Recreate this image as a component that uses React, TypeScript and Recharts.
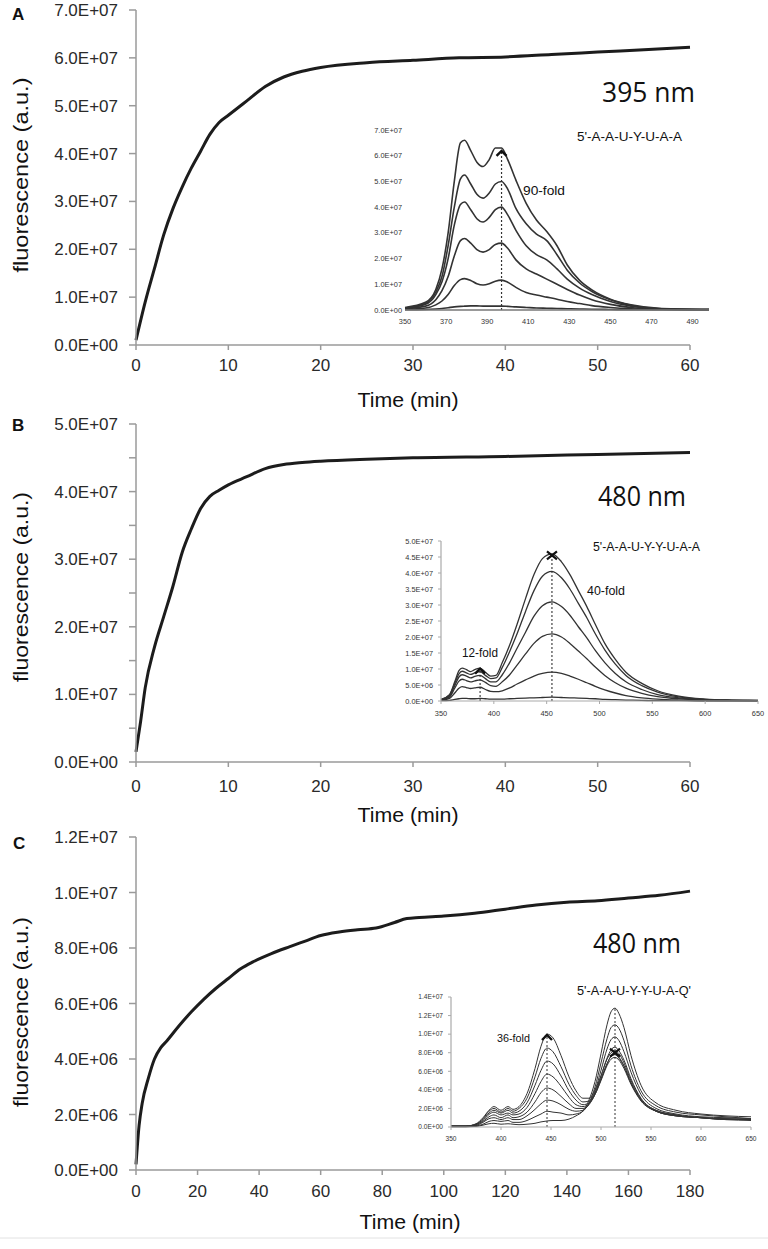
import React from 'react';
import { LineChart, Line, XAxis, YAxis, ReferenceLine, ReferenceDot } from 'recharts';

// ---------- main kinetic curves ----------
const timeA = [0, 1, 2, 3, 4, 5, 6, 7, 8, 9, 10, 12, 14, 16, 18, 20, 25, 30, 35, 40, 45, 50, 55, 60];
const fluorA_1e7 = [0.1, 0.9, 1.6, 2.3, 2.85, 3.3, 3.7, 4.05, 4.4, 4.65, 4.8, 5.1, 5.4, 5.6, 5.72, 5.8, 5.9, 5.95, 6.0, 6.02, 6.07, 6.12, 6.17, 6.22];

const timeB = [0, 0.5, 1, 2, 3, 4, 5, 6, 7, 8, 9, 10, 12, 14, 16, 18, 20, 25, 30, 40, 50, 60];
const fluorB_1e7 = [0.15, 0.6, 1.1, 1.7, 2.15, 2.6, 3.1, 3.45, 3.75, 3.93, 4.02, 4.1, 4.22, 4.34, 4.4, 4.43, 4.45, 4.48, 4.5, 4.52, 4.55, 4.58];

const timeC = [0, 1, 2, 4, 6, 8, 10, 14, 18, 22, 26, 30, 34, 38, 44, 50, 55, 60, 66, 72, 78, 84, 88, 92, 100, 110, 120, 130, 140, 150, 160, 170, 180];
const fluorC_1e6 = [0.2, 1.6, 2.4, 3.3, 4.0, 4.4, 4.65, 5.2, 5.7, 6.15, 6.55, 6.9, 7.25, 7.5, 7.8, 8.05, 8.25, 8.45, 8.58, 8.66, 8.72, 8.92, 9.06, 9.1, 9.15, 9.25, 9.4, 9.55, 9.65, 9.7, 9.8, 9.9, 10.05];

const ticksA_x = [0, 10, 20, 30, 40, 50, 60];
const ticksA_y = [0, 1, 2, 3, 4, 5, 6, 7];
const ticksB_x = [0, 10, 20, 30, 40, 50, 60];
const ticksB_y = [0, 0.5, 1, 1.5, 2, 2.5, 3, 3.5, 4, 4.5, 5];
const ticksC_x = [0, 20, 40, 60, 80, 100, 120, 140, 160, 180];
const ticksC_y = [0, 2, 4, 6, 8, 10, 12];

// ---------- inset A spectra (x1e7) ----------
const wlA = [350, 360, 365, 368, 371, 374, 377, 379, 382, 385, 388, 391, 394, 397, 400, 404, 409, 414, 419, 424, 429, 435, 441, 450, 460, 475, 498];
const specA1 = [0.1, 0.3, 0.8, 1.6, 3.0, 5.0, 6.5, 6.6, 6.2, 5.75, 5.58, 5.85, 6.3, 6.3, 5.85, 5.05, 4.15, 3.5, 3.05, 2.5, 1.75, 1.15, 0.78, 0.42, 0.2, 0.06, 0.03];
const specA2 = [0.08, 0.25, 0.7, 1.3, 2.5, 4.0, 5.1, 5.25, 4.9, 4.5, 4.35, 4.55, 4.9, 5.0, 4.7, 3.95, 3.35, 2.95, 2.7, 2.15, 1.55, 1.05, 0.72, 0.4, 0.18, 0.05, 0.02];
const specA3 = [0.07, 0.22, 0.6, 1.1, 2.0, 3.3, 4.1, 4.2, 3.9, 3.55, 3.42, 3.6, 3.9, 4.0, 3.7, 3.1, 2.5, 2.15, 1.95, 1.6, 1.2, 0.85, 0.6, 0.33, 0.15, 0.04, 0.02];
const specA4 = [0.05, 0.15, 0.4, 0.75, 1.3, 2.1, 2.7, 2.78, 2.6, 2.35, 2.25, 2.35, 2.55, 2.6, 2.4, 1.95, 1.6, 1.4, 1.2, 1.0, 0.8, 0.58, 0.4, 0.22, 0.1, 0.03, 0.01];
const specA5 = [0.03, 0.08, 0.2, 0.35, 0.6, 0.95, 1.18, 1.22, 1.15, 1.02, 0.97, 1.02, 1.12, 1.16, 1.08, 0.88, 0.68, 0.58, 0.5, 0.42, 0.33, 0.25, 0.17, 0.1, 0.05, 0.02, 0.01];
const specA6 = [0.01, 0.02, 0.04, 0.06, 0.09, 0.12, 0.14, 0.15, 0.16, 0.16, 0.15, 0.15, 0.15, 0.15, 0.14, 0.12, 0.1, 0.08, 0.07, 0.06, 0.05, 0.04, 0.03, 0.02, 0.01, 0.01, 0.0];
const insetA_xTicks = [350, 370, 390, 410, 430, 450, 470, 490];
const insetA_yTicks = [0, 1, 2, 3, 4, 5, 6, 7];

// ---------- inset B spectra (x1e7) ----------
const wlB = [350, 358, 363, 367, 370, 374, 378, 382, 387, 392, 397, 402, 408, 415, 422, 430, 438, 446, 455, 464, 472, 480, 488, 496, 505, 515, 525, 540, 555, 575, 600, 625, 650];
const specB1 = [0.05, 0.2, 0.6, 0.95, 1.03, 0.98, 0.92, 0.98, 1.03, 0.9, 0.78, 0.8, 1.2, 1.75, 2.4, 3.2, 3.95, 4.45, 4.6, 4.35, 3.95, 3.45, 2.95, 2.4, 1.8, 1.3, 0.9, 0.55, 0.32, 0.15, 0.06, 0.03, 0.02];
const specB2 = [0.04, 0.18, 0.55, 0.85, 0.93, 0.88, 0.83, 0.88, 0.92, 0.8, 0.7, 0.72, 1.05, 1.55, 2.1, 2.8, 3.45, 3.9, 4.05, 3.85, 3.5, 3.05, 2.6, 2.1, 1.6, 1.15, 0.8, 0.48, 0.28, 0.13, 0.05, 0.03, 0.02];
const specB3 = [0.03, 0.15, 0.48, 0.75, 0.82, 0.78, 0.72, 0.77, 0.8, 0.7, 0.6, 0.6, 0.82, 1.2, 1.65, 2.15, 2.65, 2.98, 3.1, 2.95, 2.68, 2.32, 1.97, 1.58, 1.2, 0.86, 0.6, 0.36, 0.2, 0.1, 0.04, 0.02, 0.01];
const specB4 = [0.03, 0.12, 0.4, 0.62, 0.68, 0.64, 0.6, 0.63, 0.66, 0.58, 0.48, 0.46, 0.6, 0.82, 1.12, 1.47, 1.8, 2.02, 2.1, 2.0, 1.8, 1.56, 1.32, 1.06, 0.8, 0.57, 0.4, 0.24, 0.14, 0.07, 0.03, 0.01, 0.01];
const specB5 = [0.02, 0.08, 0.25, 0.4, 0.45, 0.42, 0.39, 0.41, 0.43, 0.36, 0.3, 0.29, 0.32, 0.41, 0.53, 0.66, 0.78, 0.86, 0.9, 0.86, 0.78, 0.68, 0.57, 0.46, 0.35, 0.25, 0.17, 0.1, 0.06, 0.03, 0.01, 0.01, 0.0];
const specB6 = [0.01, 0.02, 0.05, 0.07, 0.08, 0.08, 0.07, 0.07, 0.08, 0.07, 0.06, 0.06, 0.06, 0.07, 0.08, 0.09, 0.1, 0.11, 0.12, 0.11, 0.1, 0.09, 0.08, 0.07, 0.05, 0.04, 0.03, 0.02, 0.01, 0.01, 0.0, 0.0, 0.0];
const insetB_xTicks = [350, 400, 450, 500, 550, 600, 650];
const insetB_yTicks = [0, 0.5, 1, 1.5, 2, 2.5, 3, 3.5, 4, 4.5, 5];

// ---------- inset C spectra (x1e6) ----------
const wlC = [350, 365, 375, 382, 388, 393, 400, 407, 412, 418, 426, 434, 440, 446, 452, 460, 468, 475, 482, 488, 494, 500, 506, 510, 514, 518, 523, 530, 540, 555, 575, 600, 625, 650];
const specC1 = [0.1, 0.1, 0.35, 1.0, 1.8, 2.2, 1.8, 2.2, 1.9, 2.2, 3.6, 6.3, 8.7, 10.0, 9.6, 7.7, 5.4, 3.9, 3.1, 3.1, 4.0, 5.5, 7.3, 8.0, 8.2, 7.9, 6.9, 5.0, 3.0, 1.8, 1.3, 1.0, 0.9, 0.8];
const specC2 = [0.1, 0.1, 0.3, 0.9, 1.7, 2.0, 1.6, 2.0, 1.7, 2.0, 3.1, 5.4, 7.4, 8.5, 8.1, 6.5, 4.6, 3.4, 2.7, 2.8, 3.7, 5.2, 6.8, 7.6, 7.8, 7.4, 6.5, 4.7, 2.9, 1.7, 1.2, 1.0, 0.8, 0.8];
const specC3 = [0.1, 0.1, 0.3, 0.8, 1.5, 1.8, 1.5, 1.8, 1.5, 1.7, 2.6, 4.5, 6.1, 7.1, 6.8, 5.5, 3.9, 2.9, 2.4, 2.6, 3.5, 5.0, 6.6, 7.3, 7.5, 7.2, 6.3, 4.6, 2.8, 1.7, 1.2, 1.0, 0.8, 0.7];
const specC4 = [0.1, 0.1, 0.25, 0.7, 1.35, 1.6, 1.3, 1.5, 1.3, 1.4, 2.1, 3.6, 4.9, 5.7, 5.4, 4.4, 3.2, 2.4, 2.2, 2.5, 3.5, 5.1, 6.8, 7.6, 7.8, 7.5, 6.6, 4.8, 2.9, 1.7, 1.2, 1.0, 0.8, 0.8];
const specC5 = [0.1, 0.1, 0.2, 0.6, 1.1, 1.3, 1.0, 1.3, 1.0, 1.1, 1.6, 2.7, 3.7, 4.2, 4.0, 3.3, 2.5, 2.0, 2.0, 2.4, 3.6, 5.5, 7.4, 8.3, 8.6, 8.2, 7.2, 5.2, 3.1, 1.8, 1.3, 1.0, 0.9, 0.8];
const specC6 = [0.05, 0.05, 0.15, 0.5, 0.9, 1.0, 0.8, 1.0, 0.8, 0.8, 1.2, 1.9, 2.5, 2.9, 2.8, 2.4, 1.9, 1.7, 1.8, 2.5, 3.9, 6.1, 8.4, 9.4, 9.7, 9.3, 8.1, 5.9, 3.5, 2.0, 1.4, 1.1, 1.0, 0.9];
const specC7 = [0.04, 0.04, 0.1, 0.3, 0.6, 0.7, 0.6, 0.7, 0.5, 0.5, 0.7, 1.1, 1.4, 1.7, 1.6, 1.5, 1.3, 1.4, 1.7, 2.6, 4.3, 6.9, 9.5, 10.7, 11.0, 10.6, 9.3, 6.6, 3.9, 2.3, 1.6, 1.3, 1.1, 0.9];
const specC8 = [0.02, 0.02, 0.06, 0.2, 0.35, 0.4, 0.3, 0.35, 0.3, 0.25, 0.3, 0.4, 0.55, 0.65, 0.7, 0.7, 0.85, 1.2, 1.75, 2.9, 4.9, 7.9, 11.0, 12.4, 12.8, 12.2, 10.7, 7.7, 4.5, 2.6, 1.8, 1.4, 1.2, 1.1];
const insetC_xTicks = [350, 400, 450, 500, 550, 600, 650];
const insetC_yTicks = [0, 2, 4, 6, 8, 10, 12, 14];

// ---------- helpers ----------
const FONT = "'Liberation Sans', Arial, Helvetica, sans-serif";

function sci(v: number): string {
  if (Math.abs(v) < 1e-9) return '0.0E+00';
  const e = Math.floor(Math.log10(Math.abs(v)) + 1e-9);
  const m = v / Math.pow(10, e);
  return `${m.toFixed(1)}E+${String(e).padStart(2, '0')}`;
}

function toRows(xs: number[], series: number[][]) {
  return xs.map((x, i) => {
    const row: any = { x };
    series.forEach((s, k) => { row['s' + k] = s[i]; });
    return row;
  });
}

const mainA = toRows(timeA, [fluorA_1e7]);
const mainB = toRows(timeB, [fluorB_1e7]);
const mainC = toRows(timeC, [fluorC_1e6]);
const insetA = toRows(wlA, [specA1, specA2, specA3, specA4, specA5, specA6]);
const insetB = toRows(wlB, [specB1, specB2, specB3, specB4, specB5, specB6]);
const insetC = toRows(wlC, [specC1, specC2, specC3, specC4, specC5, specC6, specC7, specC8]);

const Chevron = (props: any) => {
  const { cx, cy } = props;
  return <path d={`M${cx - 5},${cy + 4}L${cx},${cy - 1}L${cx + 5},${cy + 4}`} stroke="#111" strokeWidth={2.4} fill="none" />;
};
const Cross = (props: any) => {
  const { cx, cy } = props;
  return <path d={`M${cx - 5},${cy - 4}L${cx + 5},${cy + 4}M${cx + 5},${cy - 4}L${cx - 5},${cy + 4}`} stroke="#111" strokeWidth={2.2} fill="none" />;
};

const axisStroke = { stroke: '#9a9a9a', strokeWidth: 1.5 };
const mainTick = { fill: '#2a2a2a', fontSize: 17, fontFamily: FONT };

function MainPanel(props: {
  top: number; height: number; bottom: number; data: any[];
  xTicks: number[]; xMax: number; yTicks: number[]; yMax: number;
  yFmt: (v: number) => string; tickMarginX: number;
}) {
  const { top, height, bottom, data, xTicks, xMax, yTicks, yMax, yFmt, tickMarginX } = props;
  return (
    <div style={{ position: 'absolute', left: 0, top }}>
      <LineChart width={768} height={height} data={data} margin={{ top: 10, right: 78, left: 0, bottom }}>
        <XAxis dataKey="x" type="number" domain={[0, xMax]} ticks={xTicks} interval={0}
          axisLine={axisStroke} tickLine={axisStroke} tickSize={5} tickMargin={tickMarginX}
          tick={mainTick} height={30} />
        <YAxis type="number" domain={[0, yMax]} ticks={yTicks} interval={0} width={136}
          axisLine={axisStroke} tickLine={axisStroke} tickSize={7} tickMargin={11}
          tick={mainTick} tickFormatter={yFmt} />
        <Line type="monotone" dataKey="s0" stroke="#1c1c1c" strokeWidth={3} dot={false} isAnimationActive={false} />
      </LineChart>
    </div>
  );
}

export default function App() {
  return (
    <div style={{ position: 'absolute', left: 0, top: 0, width: 768, height: 1249, background: '#fff', overflow: 'hidden' }}>
      {/* Panel A */}
      <MainPanel top={0} height={400} bottom={25} data={mainA} xTicks={ticksA_x} xMax={60}
        yTicks={ticksA_y} yMax={7} yFmt={(v) => sci(v * 1e7)} tickMarginX={9} />
      {/* Panel B */}
      <MainPanel top={414} height={400} bottom={22} data={mainB} xTicks={ticksB_x} xMax={60}
        yTicks={ticksB_y} yMax={5} yFmt={(v) => (Math.abs(v - Math.round(v)) < 1e-6 ? sci(v * 1e7) : '')} tickMarginX={13} />
      {/* Panel C */}
      <MainPanel top={827} height={390} bottom={17} data={mainC} xTicks={ticksC_x} xMax={180}
        yTicks={ticksC_y} yMax={12} yFmt={(v) => sci(v * 1e6)} tickMarginX={10} />

      {/* Inset A */}
      <div style={{ position: 'absolute', left: 340, top: 120 }}>
        <LineChart width={380} height={215} data={insetA} margin={{ top: 10, right: 11, left: 0, bottom: 5 }}>
          <XAxis dataKey="x" type="number" domain={[350, 498]} ticks={insetA_xTicks} interval={0}
            axisLine={{ stroke: '#777', strokeWidth: 1.4 }} tickLine={false} tickSize={4} tickMargin={5}
            tick={{ fill: '#333', fontSize: 7.4, fontFamily: FONT }} height={20} />
          <YAxis type="number" domain={[0, 7]} ticks={insetA_yTicks} interval={0} width={65}
            axisLine={false} tickLine={false} tickSize={1} tickMargin={2}
            tick={{ fill: '#333', fontSize: 7.4, fontFamily: FONT }} tickFormatter={(v) => sci(v * 1e7)} />
          {['s5', 's4', 's3', 's2', 's1', 's0'].map((k) => (
            <Line key={k} type="monotone" dataKey={k} stroke="#333" strokeWidth={1.6} dot={false} isAnimationActive={false} />
          ))}
          <ReferenceLine segment={[{ x: 397, y: 0 }, { x: 397, y: 6.15 }]} stroke="#333" strokeWidth={1.2} strokeDasharray="2 2" />
          <ReferenceDot x={397} y={6.15} r={4} shape={Chevron} />
        </LineChart>
      </div>

      {/* Inset B */}
      <div style={{ position: 'absolute', left: 370, top: 530 }}>
        <LineChart width={398} height={195} data={insetB} margin={{ top: 11, right: 10, left: 0, bottom: 4 }}>
          <XAxis dataKey="x" type="number" domain={[350, 650]} ticks={insetB_xTicks} interval={0}
            axisLine={{ stroke: '#aaa', strokeWidth: 1.2 }} tickLine={{ stroke: '#aaa' }} tickSize={3} tickMargin={7}
            tick={{ fill: '#333', fontSize: 7.4, fontFamily: FONT }} height={20} />
          <YAxis type="number" domain={[0, 5]} ticks={insetB_yTicks} interval={0} width={71}
            axisLine={{ stroke: '#aaa', strokeWidth: 1.2 }} tickLine={{ stroke: '#aaa' }} tickSize={3} tickMargin={5}
            tick={{ fill: '#333', fontSize: 7.4, fontFamily: FONT }} tickFormatter={(v) => sci(v * 1e7)} />
          {['s5', 's4', 's3', 's2', 's1', 's0'].map((k) => (
            <Line key={k} type="monotone" dataKey={k} stroke="#333" strokeWidth={1.3} dot={false} isAnimationActive={false} />
          ))}
          <ReferenceLine segment={[{ x: 455, y: 0 }, { x: 455, y: 4.55 }]} stroke="#333" strokeWidth={1.1} strokeDasharray="2 2" />
          <ReferenceLine segment={[{ x: 387, y: 0 }, { x: 387, y: 0.97 }]} stroke="#333" strokeWidth={1.1} strokeDasharray="2 2" />
          <ReferenceDot x={455} y={4.55} r={4} shape={Cross} />
          <ReferenceDot x={387} y={0.98} r={4} shape={Chevron} />
        </LineChart>
      </div>

      {/* Inset C */}
      <div style={{ position: 'absolute', left: 385, top: 985 }}>
        <LineChart width={376} height={166} data={insetC} margin={{ top: 12, right: 10, left: 0, bottom: 4 }}>
          <XAxis dataKey="x" type="number" domain={[350, 650]} ticks={insetC_xTicks} interval={0}
            axisLine={{ stroke: '#aaa', strokeWidth: 1.2 }} tickLine={{ stroke: '#aaa' }} tickSize={3} tickMargin={6}
            tick={{ fill: '#333', fontSize: 6.6, fontFamily: FONT }} height={20} />
          <YAxis type="number" domain={[0, 14]} ticks={insetC_yTicks} interval={0} width={66}
            axisLine={{ stroke: '#aaa', strokeWidth: 1.2 }} tickLine={{ stroke: '#aaa' }} tickSize={3} tickMargin={5}
            tick={{ fill: '#333', fontSize: 6.6, fontFamily: FONT }} tickFormatter={(v) => sci(v * 1e6)} />
          {['s7', 's6', 's5', 's4', 's3', 's2', 's1', 's0'].map((k) => (
            <Line key={k} type="monotone" dataKey={k} stroke="#333" strokeWidth={1.0} dot={false} isAnimationActive={false} />
          ))}
          <ReferenceLine segment={[{ x: 446, y: 0 }, { x: 446, y: 9.9 }]} stroke="#333" strokeWidth={1} strokeDasharray="2 2" />
          <ReferenceLine segment={[{ x: 514, y: 0 }, { x: 514, y: 12.7 }]} stroke="#333" strokeWidth={1} strokeDasharray="2 2" />
          <ReferenceDot x={446} y={9.8} r={4} shape={Chevron} />
          <ReferenceDot x={514} y={8.0} r={4} shape={Cross} />
        </LineChart>
      </div>

      {/* Text overlay */}
      <svg width={768} height={1249} style={{ position: 'absolute', left: 0, top: 0, pointerEvents: 'none' }}>
        <g fontFamily={FONT} fill="#111">
          <text x={12} y={14} fontSize={17} fontWeight="bold" dominantBaseline="central">A</text>
          <text x={12} y={425} fontSize={17} fontWeight="bold" dominantBaseline="central">B</text>
          <text x={13} y={843} fontSize={17} fontWeight="bold" dominantBaseline="central">C</text>

          <text x={21} y={175} fontSize={20} textAnchor="middle" dominantBaseline="central" transform="rotate(-90 21 175)" textLength={195} lengthAdjust="spacingAndGlyphs">fluorescence (a.u.)</text>
          <text x={21} y={587} fontSize={20} textAnchor="middle" dominantBaseline="central" transform="rotate(-90 21 587)" textLength={190} lengthAdjust="spacingAndGlyphs">fluorescence (a.u.)</text>
          <text x={21} y={1012} fontSize={20} textAnchor="middle" dominantBaseline="central" transform="rotate(-90 21 1012)" textLength={190} lengthAdjust="spacingAndGlyphs">fluorescence (a.u.)</text>

          <text x={408} y={400} fontSize={20} textAnchor="middle" dominantBaseline="central" textLength={101} lengthAdjust="spacingAndGlyphs">Time (min)</text>
          <text x={408} y={815} fontSize={20} textAnchor="middle" dominantBaseline="central" textLength={101} lengthAdjust="spacingAndGlyphs">Time (min)</text>
          <text x={410} y={1222} fontSize={20} textAnchor="middle" dominantBaseline="central" textLength={101} lengthAdjust="spacingAndGlyphs">Time (min)</text>

          <text x={602} y={92} fontSize={26.5} fontFamily="'Open Sans', sans-serif" dominantBaseline="central" textLength={93} lengthAdjust="spacingAndGlyphs">395 nm</text>
          <text x={598} y={496} fontSize={26.5} fontFamily="'Open Sans', sans-serif" dominantBaseline="central" textLength={88} lengthAdjust="spacingAndGlyphs">480 nm</text>
          <text x={593} y={943} fontSize={26.5} fontFamily="'Open Sans', sans-serif" dominantBaseline="central" textLength={88} lengthAdjust="spacingAndGlyphs">480 nm</text>

          <text x={577} y={137} fontSize={12.5} dominantBaseline="central" textLength={105} lengthAdjust="spacingAndGlyphs">5'-A-A-U-Y-U-A-A</text>
          <text x={523} y={190} fontSize={13.5} dominantBaseline="central" textLength={42} lengthAdjust="spacingAndGlyphs">90-fold</text>

          <text x={593} y={547} fontSize={12} dominantBaseline="central" textLength={107} lengthAdjust="spacingAndGlyphs">5'-A-A-U-Y-Y-U-A-A</text>
          <text x={587} y={591} fontSize={12.4} dominantBaseline="central" textLength={38} lengthAdjust="spacingAndGlyphs">40-fold</text>
          <text x={462} y={653} fontSize={12} dominantBaseline="central" textLength={36} lengthAdjust="spacingAndGlyphs">12-fold</text>

          <text x={577} y={991} fontSize={12} dominantBaseline="central" textLength={114} lengthAdjust="spacingAndGlyphs">5'-A-A-U-Y-Y-U-A-Q'</text>
          <text x={497} y={1038} fontSize={11} dominantBaseline="central" textLength={33} lengthAdjust="spacingAndGlyphs">36-fold</text>
        </g>
        <line x1={0} y1={1238} x2={768} y2={1238} stroke="#e2e2e2" strokeWidth={1} />
      </svg>
    </div>
  );
}
